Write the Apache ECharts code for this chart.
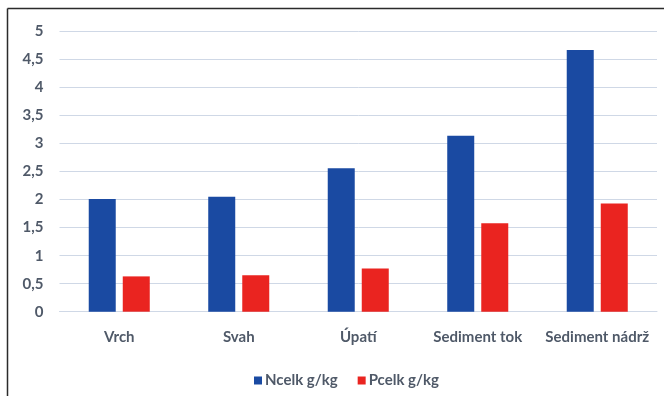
<!DOCTYPE html>
<html>
<head>
<meta charset="utf-8">
<script src="https://cdn.jsdelivr.net/npm/echarts@6/dist/echarts.min.js"></script>
<style>
  html, body { margin: 0; padding: 0; background: #fff; }
  #chart { width: 664px; height: 396px; }
</style>
</head>
<body>
<div id="chart"></div>
<script>
// Site categories and total nitrogen / phosphorus content (g/kg)
const categories = ['Vrch', 'Svah', 'Úpatí', 'Sediment tok', 'Sediment nádrž'];
const nitrogen = [2.01, 2.05, 2.56, 3.14, 4.67];
const phosphorus = [0.63, 0.65, 0.77, 1.58, 1.93];
const seriesNames = ['Ncelk g/kg', 'Pcelk g/kg'];

const textColor = '#4f5968';
const gridColor = '#cfd8e6';
const fontFamily = 'Lato, "Open Sans", sans-serif';
const fontSize = 15;
const fontWeight = 'bold';

const chart = echarts.init(document.getElementById('chart'), null, { renderer: 'canvas' });

chart.setOption({
  animation: false,
  backgroundColor: '#ffffff',
  textStyle: { fontFamily: fontFamily },
  grid: { left: 59.5, right: 7, top: 31.5, bottom: 84.3, containLabel: false },
  legend: {
    left: 249,
    top: 368,
    itemWidth: 8,
    itemHeight: 8,
    itemGap: 20,
    icon: 'rect',
    textStyle: { color: textColor, fontSize: fontSize, fontWeight: fontWeight, fontFamily: fontFamily, padding: [0, 0, 0, -2] },
    data: seriesNames
  },
  xAxis: {
    type: 'category',
    data: categories,
    axisTick: { show: false },
    axisLine: { show: true, lineStyle: { color: gridColor, width: 1 } },
    axisLabel: { interval: 0, color: textColor, fontSize: fontSize, fontWeight: fontWeight, margin: 18, fontFamily: fontFamily }
  },
  yAxis: {
    type: 'value',
    min: 0,
    max: 5,
    interval: 0.5,
    axisLine: { show: false },
    axisTick: { show: false },
    axisLabel: {
      color: textColor,
      fontSize: fontSize,
      fontWeight: fontWeight,
      margin: 16,
      fontFamily: fontFamily,
      formatter: function (v) { return String(v).replace('.', ','); }
    },
    splitLine: { lineStyle: { color: gridColor, width: 1 } }
  },
  series: [
    {
      name: seriesNames[0],
      type: 'bar',
      data: nitrogen,
      barWidth: 27,
      barGap: '26%',
      itemStyle: { color: '#1a4aa2' }
    },
    {
      name: seriesNames[1],
      type: 'bar',
      data: phosphorus,
      barWidth: 27,
      itemStyle: { color: '#ea2420' }
    }
  ],
  graphic: [
    {
      type: 'line',
      shape: { x1: 7.5, y1: 8.5, x2: 664, y2: 8.5 },
      style: { stroke: '#2b2b2b', lineWidth: 1.5 }
    },
    {
      type: 'line',
      shape: { x1: 7.5, y1: 8.5, x2: 7.5, y2: 396 },
      style: { stroke: '#2b2b2b', lineWidth: 1.5 }
    }
  ]
});
</script>
</body>
</html>
